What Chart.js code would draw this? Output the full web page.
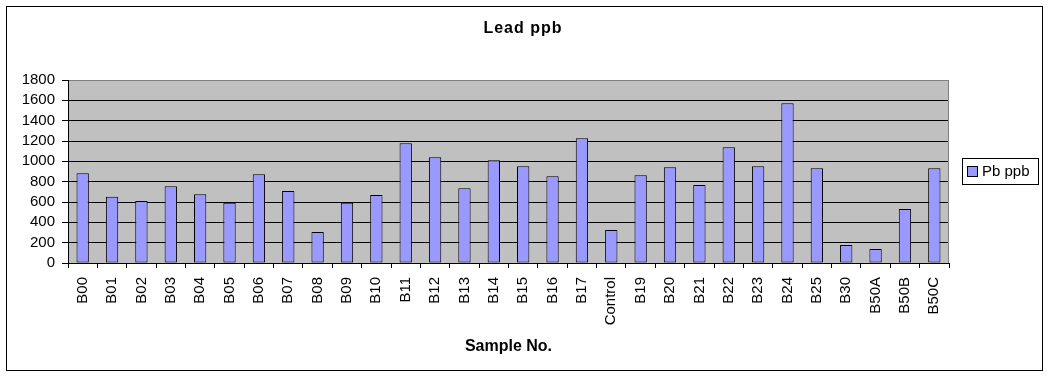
<!DOCTYPE html>
<html><head><meta charset="utf-8">
<script src="https://cdn.jsdelivr.net/npm/chart.js@4/dist/chart.umd.min.js"></script>
<style>html,body{margin:0;padding:0;background:#fff;}canvas{display:block}</style>
</head><body>
<canvas id="c" width="1049" height="376" style="width:1049px;height:376px"></canvas>
<script>
const categories = ['B00','B01','B02','B03','B04','B05','B06','B07','B08','B09',
  'B10','B11','B12','B13','B14','B15','B16','B17','Control','B19','B20','B21',
  'B22','B23','B24','B25','B30','B50A','B50B','B50C'];
const pbValues = [884,651,609,756,677,592,874,707,304,592,
  668,1178,1041,736,1011,952,854,1227,324,864,943,766,
  1139,952,1571,933,177,137,530,933];
const yTicks = [0,200,400,600,800,1000,1200,1400,1600,1800];
const seriesName = 'Pb ppb';
const chartTitle = 'Lead ppb';
const xAxisTitle = 'Sample No.';

const FONT = 'Liberation Sans, Arial, sans-serif';

const decor = {
  id: 'decor',
  beforeDraw(chart) {
    const ctx = chart.ctx, a = chart.chartArea;
    ctx.save();
    ctx.fillStyle = '#fff';
    ctx.fillRect(0, 0, chart.width, chart.height);
    ctx.fillStyle = '#C0C0C0';
    ctx.fillRect(a.left, a.top, a.right - a.left, a.bottom - a.top);
    ctx.strokeStyle = '#000';
    ctx.lineWidth = 1;
    ctx.strokeRect(6.5, 6.5, 1036, 364);
    ctx.restore();
  },
  afterDraw(chart) {
    const ctx = chart.ctx, a = chart.chartArea;
    ctx.save();
    ctx.strokeStyle = '#808080';
    ctx.lineWidth = 1;
    ctx.beginPath();
    ctx.moveTo(Math.round(a.right) - 0.5, a.top);
    ctx.lineTo(Math.round(a.right) - 0.5, a.bottom);
    ctx.stroke();
    ctx.fillStyle = '#000';
    ctx.font = 'bold 16px ' + FONT;
    if ('letterSpacing' in ctx) ctx.letterSpacing = '1px';
    ctx.textAlign = 'center';
    ctx.textBaseline = 'middle';
    ctx.fillText(chartTitle, 523, 29);
    if ('letterSpacing' in ctx) ctx.letterSpacing = '0px';
    const ds = chart.data.datasets[0];
    ctx.fillStyle = '#fff';
    ctx.fillRect(962.5, 158.5, 76, 26);
    ctx.strokeStyle = '#000';
    ctx.strokeRect(962.5, 158.5, 76, 26);
    ctx.fillStyle = ds.backgroundColor;
    ctx.fillRect(967.5, 166.5, 10, 10);
    ctx.strokeRect(967.5, 166.5, 10, 10);
    ctx.fillStyle = '#000';
    ctx.font = '15px ' + FONT;
    ctx.textAlign = 'left';
    ctx.fillText(ds.label, 982, 172);
    ctx.restore();
  }
};

new Chart(document.getElementById('c'), {
  type: 'bar',
  data: {
    labels: categories,
    datasets: [{
      label: seriesName,
      data: pbValues,
      backgroundColor: '#9999FF',
      borderColor: '#000',
      borderWidth: 1,
      borderSkipped: false,
      barPercentage: 0.42,
      categoryPercentage: 1
    }]
  },
  options: {
    responsive: false,
    animation: false,
    devicePixelRatio: 1,
    layout: { padding: { top: 80, right: 100, left: 0, bottom: 0 } },
    plugins: { legend: { display: false }, title: { display: false }, tooltip: { enabled: false } },
    scales: {
      x: {
        offset: true,
        grid: { offset: true, drawOnChartArea: false, color: '#000', tickColor: '#000', tickLength: 5 },
        border: { color: '#000' },
        ticks: { font: { family: FONT, size: 15 }, color: '#000', minRotation: 90, maxRotation: 90, autoSkip: false, padding: 9 },
        title: { display: true, text: xAxisTitle, color: '#000', font: { family: FONT, size: 16, weight: 'bold' }, padding: { top: 0, bottom: 20 } },
        afterFit(s) { s.height = 113; }
      },
      y: {
        min: 0, max: 1800,
        afterBuildTicks(s) { s.ticks = yTicks.map(v => ({ value: v })); },
        ticks: { font: { family: FONT, size: 15 }, color: '#000', padding: 7, autoSkip: false,
                 callback: v => String(v) },
        grid: { color: c => (c.tick && c.tick.value === 1800) ? '#808080' : '#000', tickColor: '#000', tickLength: 6 },
        border: { color: '#000' },
        afterFit(s) { s.width = 68; }
      }
    }
  },
  plugins: [decor]
});
</script>
</body></html>
